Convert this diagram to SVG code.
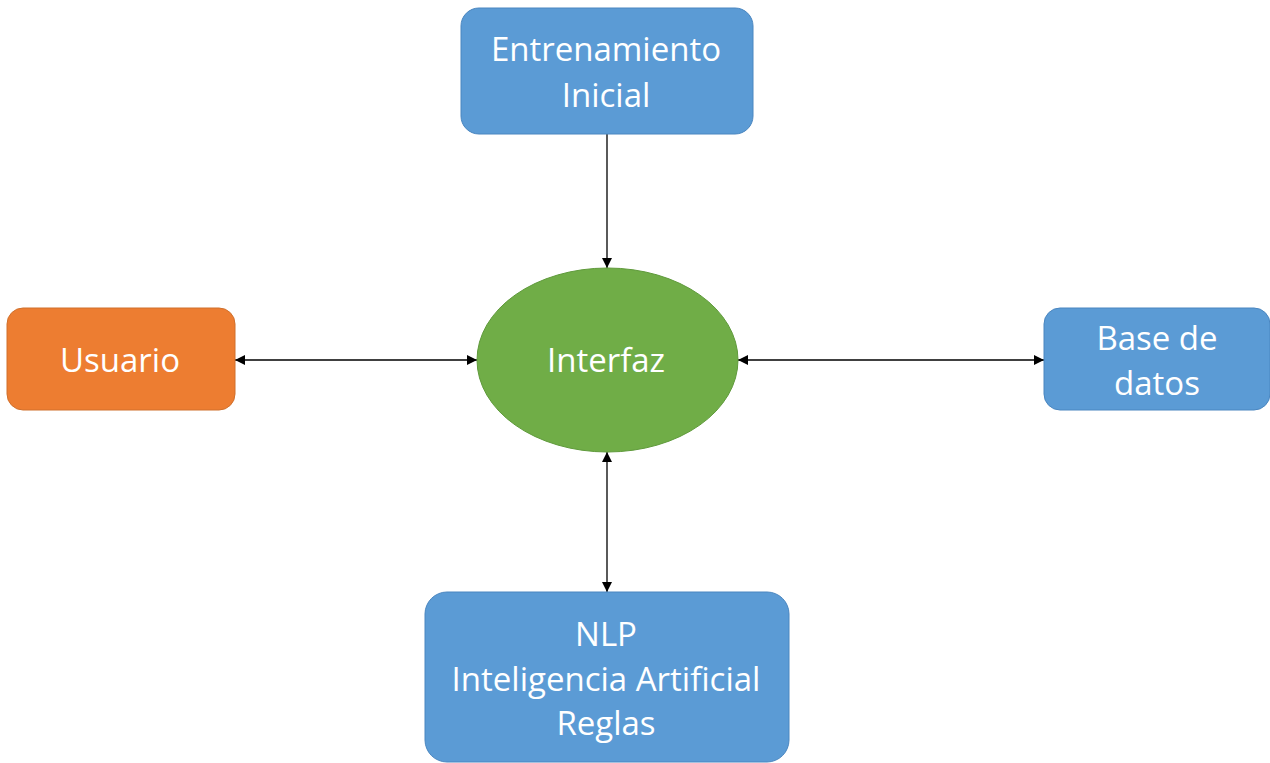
<svg xmlns="http://www.w3.org/2000/svg" width="1270" height="763" viewBox="0 0 1270 763">
<defs>
<marker id="ah" viewBox="0 0 10 10" refX="10" refY="5" markerWidth="10" markerHeight="10" markerUnits="userSpaceOnUse" orient="auto-start-reverse">
<path d="M0,0 L10,5 L0,10 z" fill="#000"/>
</marker>
<style>
.blue{fill:#5b9bd5;stroke:#4a86c0;stroke-width:1}
.orange{fill:#ed7d31;stroke:#d0702c;stroke-width:1}
.green{fill:#70ad47;stroke:#5f9a3b;stroke-width:1}
.t{font-family:"Open Sans","Noto Sans",sans-serif;font-size:33px;fill:#fff;text-anchor:middle}
.c{stroke:#000;stroke-width:1.3;fill:none}
</style>
</defs>
<rect width="1270" height="763" fill="#fff"/>
<g id="connectors">
<line class="c" x1="607" y1="134" x2="607" y2="268" marker-end="url(#ah)"/>
<line class="c" x1="235" y1="360" x2="477" y2="360" marker-start="url(#ah)" marker-end="url(#ah)"/>
<line class="c" x1="738" y1="360" x2="1044" y2="360" marker-start="url(#ah)" marker-end="url(#ah)"/>
<line class="c" x1="607" y1="452" x2="607" y2="592" marker-start="url(#ah)" marker-end="url(#ah)"/>
</g>
<g id="entrenamiento">
<rect class="blue" x="461" y="8" width="292" height="126" rx="18"/>
<text class="t" x="606" y="61">Entrenamiento</text>
<text class="t" x="606" y="107">Inicial</text>
</g>
<g id="usuario">
<rect class="orange" x="7" y="308" width="228" height="102" rx="16"/>
<text class="t" x="120" y="372">Usuario</text>
</g>
<g id="interfaz">
<ellipse class="green" cx="607.5" cy="360" rx="130.5" ry="92"/>
<text class="t" x="606" y="372">Interfaz</text>
</g>
<g id="basededatos">
<rect class="blue" x="1044" y="308" width="226" height="102" rx="16"/>
<text class="t" x="1157" y="350">Base de</text>
<text class="t" x="1157" y="395">datos</text>
</g>
<g id="nlp">
<rect class="blue" x="425" y="592" width="364" height="170" rx="22"/>
<text class="t" x="606" y="646">NLP</text>
<text class="t" x="606" y="691">Inteligencia Artificial</text>
<text class="t" x="606" y="735">Reglas</text>
</g>
</svg>
